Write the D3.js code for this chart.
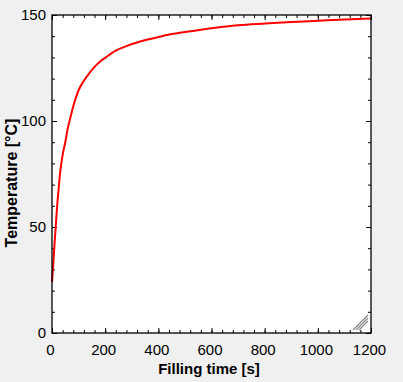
<!DOCTYPE html>
<html><head><meta charset="utf-8">
<script src="https://cdn.jsdelivr.net/npm/d3@7"></script>
<style>
html,body{margin:0;padding:0;background:#f0f0f0;}
svg{display:block;font-family:"Liberation Sans",Arial,sans-serif;}
</style></head>
<body>
<svg id="c" width="403" height="382"></svg>
<script>
const timeS = [0, 5, 10, 15, 20, 25, 30, 40, 50, 60, 70, 80, 100, 120, 140, 160, 180, 200, 240, 280, 320, 360, 400, 450, 500, 600, 700, 800, 900, 1000, 1100, 1200];
const tempC = [24, 33, 43, 52, 61, 68, 75, 84, 90, 97, 102, 107, 114.5, 119, 122.5, 125.5, 128, 129.8, 133.2, 135.3, 137, 138.4, 139.6, 141, 142, 143.8, 145.2, 146, 146.7, 147.3, 147.9, 148.3];
const xTicks = [0, 200, 400, 600, 800, 1000, 1200];
const yTicks = [0, 50, 100, 150];
const xLabel = "Filling time [s]";
const yLabel = "Temperature [°C]";

const svg = d3.select("#c");
const L = 52, R = 371, T = 15, B = 333;
const x = d3.scaleLinear().domain([0, 1200]).range([L, R]);
const y = d3.scaleLinear().domain([0, 150]).range([B, T]);

svg.append("rect").attr("x", L).attr("y", T).attr("width", R - L).attr("height", B - T).attr("fill", "#fff");

const xMinor = d3.range(0, 1201, 40);
const yMinor = d3.range(0, 151, 10);

function ticks(axisGen, tr) {
  const g = svg.append("g").attr("transform", tr).call(axisGen);
  g.select(".domain").remove();
  g.selectAll("line").attr("stroke", "#000");
  return g;
}
// minor ticks
ticks(d3.axisBottom(x).tickValues(xMinor).tickSize(-3).tickFormat(""), `translate(0,${B})`);
ticks(d3.axisTop(x).tickValues(xMinor).tickSize(-3).tickFormat(""), `translate(0,${T})`);
ticks(d3.axisLeft(y).tickValues(yMinor).tickSize(-3).tickFormat(""), `translate(${L},0)`);
ticks(d3.axisRight(y).tickValues(yMinor).tickSize(-3).tickFormat(""), `translate(${R},0)`);
// major ticks
const gx = ticks(d3.axisBottom(x).tickValues(xTicks).tickSize(-5).tickPadding(11).tickFormat(d3.format("d")), `translate(0,${B})`);
ticks(d3.axisTop(x).tickValues(xTicks).tickSize(-5).tickFormat(""), `translate(0,${T})`);
const gy = ticks(d3.axisLeft(y).tickValues(yTicks).tickSize(-5).tickPadding(6).tickFormat(d3.format("d")), `translate(${L},0)`);
ticks(d3.axisRight(y).tickValues(yTicks).tickSize(-5).tickFormat(""), `translate(${R},0)`);
gx.selectAll("text").attr("font-size", 15).attr("fill", "#000").attr("font-family", "Liberation Sans, Arial, sans-serif").attr("dx", -2);
gy.selectAll("text").attr("font-size", 15).attr("fill", "#000").attr("font-family", "Liberation Sans, Arial, sans-serif").attr("dy", "0.3em");

// curve
svg.append("path")
  .datum(timeS.map((t, i) => [t, tempC[i]]))
  .attr("fill", "none").attr("stroke", "#ff0000").attr("stroke-width", 2)
  .attr("d", d3.line().x(d => x(d[0])).y(d => y(d[1])).curve(d3.curveMonotoneX));

// frame
svg.append("rect").attr("x", L).attr("y", T).attr("width", R - L).attr("height", B - T)
  .attr("fill", "none").attr("stroke", "#000").attr("stroke-width", 1.3);

// resize grip
const grip = svg.append("g").attr("stroke", "#888").attr("stroke-width", 1.3);
[9, 12, 15].forEach(b => {
  grip.append("line").attr("x1", R - 3 - b).attr("y1", B - 3).attr("x2", R - 3).attr("y2", B - 3 - b);
});

svg.append("text").attr("x", 209).attr("y", 374).attr("text-anchor", "middle")
  .attr("font-size", 15).attr("font-weight", "bold").text(xLabel);
svg.append("text").attr("transform", "translate(17,183) rotate(-90)").attr("text-anchor", "middle")
  .attr("font-size", 16).attr("font-weight", "bold").text(yLabel);
</script>
</body></html>
